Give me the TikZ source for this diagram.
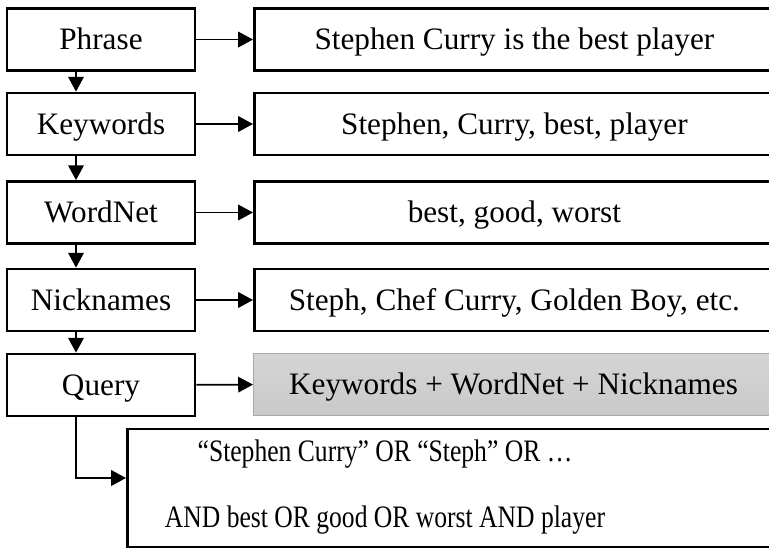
\documentclass[tikz,border=0pt]{standalone}
\usepackage{graphicx}
\usepackage{fontspec}
\setmainfont{Liberation Serif}
\usetikzlibrary{arrows.meta}

\begin{document}
\begin{tikzpicture}[x=0.025cm, y=-0.025cm, >={Triangle[length=10.5pt, width=11pt]},
    font=\fontsize{22.2pt}{26.6pt}\selectfont,
    stagebox/.style={draw, line width=1.9pt, minimum width=4.7cm, minimum height=1.55cm, inner sep=0pt,
        text height=14.7pt, text depth=0pt},
    valuebox/.style={stagebox, minimum width=13cm, anchor=west},
    flow/.style={->, line width=1.2pt}]
    \useasboundingbox (0,0) rectangle (769,549);

    % 1. 左列的各个步骤
    \node[stagebox] (phrase) at (101,39.5) {Phrase};
    \node[stagebox] (keywords) at (101,124) {Keywords};
    \node[stagebox] (wordnet) at (101,212.5) {WordNet};
    \node[stagebox] (nicknames) at (101,300) {Nicknames};
    \node[stagebox] (query) at (101,385) {Query};

    % 2. 右列对应的内容 (右边框超出画面)
    \node[valuebox] (phrase-val) at (253,39.5) {Stephen Curry is the best player};
    \node[valuebox] (keywords-val) at (253,124) {Stephen, Curry, best, player};
    \node[valuebox] (wordnet-val) at (253,212.5) {best, good, worst};
    \node[valuebox] (nicknames-val) at (253,300) {Steph, Chef Curry, Golden Boy, etc.};
    \node[valuebox, draw=gray!68, line width=0.7pt, top color=gray!33, bottom color=gray!42] (query-val) at (253,384) {Keywords + WordNet + Nicknames};

    % 3. 最终的查询语句 (文字横向压缩)
    \node[valuebox, minimum width=16.5cm, minimum height=2.95cm] (result) at (126,488) {};
    \node[align=center, font=\fontsize{22.2pt}{47.5pt}\selectfont] (result-text) at (385,487)
        {\scalebox{0.82}[1]{“Stephen Curry” OR “Steph” OR …}\\
         \scalebox{0.82}[1]{AND best OR good OR worst AND player}};

    % 4. 箭头
    \coordinate (spine) at (76,0);
    \foreach \a/\b in {phrase/keywords, keywords/wordnet, wordnet/nicknames, nicknames/query}
        \draw[flow] (\a.south -| spine) -- (\b.north -| spine);
    \foreach \a in {phrase, keywords, wordnet, nicknames, query}
        \draw[flow] (\a) -- (\a-val);
    \draw[flow] (query.south -| spine) |- ([yshift=0.25cm]result.west);
\end{tikzpicture}
\end{document}
